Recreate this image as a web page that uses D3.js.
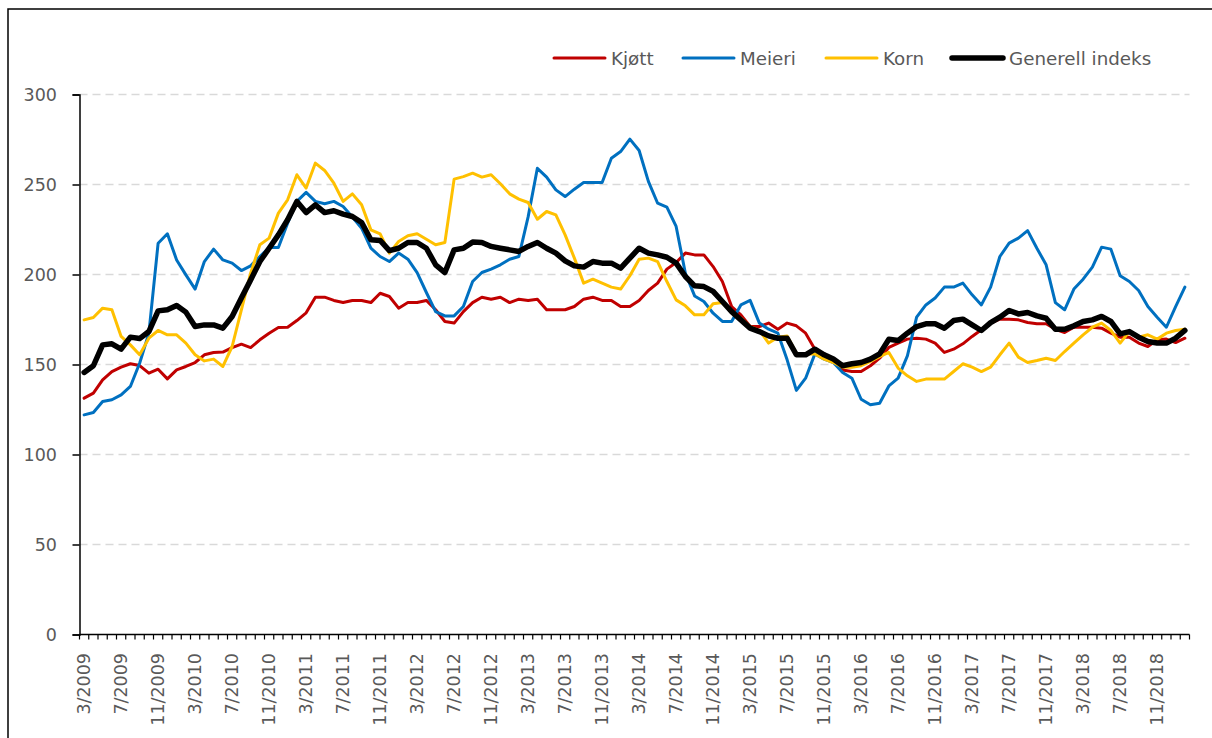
<!DOCTYPE html>
<html>
<head>
<meta charset="utf-8">
<script src="https://cdn.jsdelivr.net/npm/d3@7"></script>
<style>
  html, body { margin: 0; padding: 0; background: #fff; }
  svg { display: block; }
  text { font-family: "DejaVu Sans", sans-serif; fill: #595959; }
</style>
</head>
<body>
<svg id="chart" width="1212" height="738"></svg>
<script>
// ---- data (monthly, 3/2009 – 2/2019) ----
const months = [];
for (let k = 0; k < 120; k++) {
  const m = (2 + k) % 12 + 1;
  const yr = 2009 + Math.floor((2 + k) / 12);
  months.push(m + "/" + yr);
}
const seriesNames = ["Kjøtt", "Meieri", "Korn", "Generell indeks"];
const seriesColors = ["#C00000", "#0070C0", "#FFC000", "#000000"];
const yTicks = [0, 50, 100, 150, 200, 250, 300];

const kjott = [131.3,134.1,141.5,146.1,148.5,150.4,149.4,145.2,147.4,142.0,147.0,148.9,151.1,155.4,156.7,156.9,159.4,161.3,159.4,163.7,
167.4,170.6,170.7,174.4,178.7,187.4,187.4,185.6,184.4,185.6,185.6,184.4,189.6,187.8,181.3,184.4,184.4,185.6,180.4,173.9,
173.0,179.4,184.4,187.4,186.3,187.4,184.4,186.3,185.6,186.3,180.4,180.4,180.4,182.2,186.3,187.4,185.6,185.6,182.2,182.2,
185.6,191.1,195.2,203.0,206.7,211.9,210.9,210.9,204.4,196.1,182.2,177.6,171.1,171.1,173.0,169.6,173.0,171.5,167.4,158.5,
155.9,152.6,147.0,146.1,146.1,149.3,153.5,159.5,161.9,164.1,164.6,164.1,161.9,156.7,158.5,161.5,165.6,169.3,173.0,175.2,
175.2,174.8,173.3,172.6,172.6,169.6,167.8,170.7,170.7,170.7,170.2,167.4,165.2,165.2,161.9,160.0,163.7,164.1,162.2,164.6];

const meieri = [122.0,123.3,129.4,130.4,133.1,137.8,150.7,167.4,217.4,222.6,208.1,199.8,191.9,207.2,214.1,208.1,206.3,202.2,204.8,210.0,
215.0,215.0,228.5,240.6,245.6,240.6,239.3,240.6,237.8,231.9,225.7,214.6,210.0,207.2,211.9,208.5,201.1,190.0,179.4,177.0,
177.0,182.2,196.1,201.1,203.0,205.4,208.5,210.0,232.0,259.0,254.1,247.0,243.3,247.4,251.1,251.1,251.1,264.6,268.3,275.2,
268.9,251.7,239.6,237.4,226.7,200.7,188.1,185.0,178.5,173.9,173.9,183.1,185.6,173.0,169.6,167.4,152.6,135.6,142.4,155.9,
153.0,151.1,145.6,142.4,130.7,127.6,128.5,138.1,142.4,154.8,176.3,183.1,186.9,193.0,193.0,195.2,188.7,183.1,193.0,210.0,
217.4,220.2,224.4,214.6,205.4,184.4,180.4,191.9,197.4,204.1,215.2,214.1,199.3,196.1,191.1,182.2,176.3,170.7,182.2,193.0];

const korn = [174.8,176.1,181.3,180.4,165.6,160.9,155.4,164.6,168.9,166.5,166.5,161.9,155.4,152.0,153.0,148.9,160.0,180.4,200.7,216.5,
220.2,234.1,241.5,255.4,248.0,261.9,257.8,250.7,240.6,244.8,238.7,224.8,222.6,211.9,218.3,221.5,222.6,219.6,216.5,217.8,
253.0,254.4,256.3,254.1,255.4,250.4,244.8,241.9,240.0,230.7,235.0,233.1,222.0,209.1,195.2,197.4,195.2,193.0,191.9,199.3,
208.5,209.1,207.2,196.1,185.9,182.6,177.6,177.6,183.7,184.4,179.4,175.7,171.1,168.9,161.9,165.2,165.9,156.3,155.9,155.9,
153.0,151.1,148.5,148.5,149.3,151.7,154.4,156.7,148.0,143.7,140.6,141.9,141.9,141.9,146.1,150.4,148.5,146.1,148.5,155.4,
161.9,154.1,151.1,152.2,153.5,152.2,157.2,161.9,166.5,170.7,173.0,168.9,161.9,168.3,165.2,166.5,164.1,167.4,168.9,169.6];

const generell = [145.6,149.3,160.9,161.5,158.5,165.2,164.4,168.3,179.8,180.4,182.8,179.1,171.1,172.0,172.0,170.2,176.7,186.9,197.0,207.2,
214.6,222.0,230.4,240.6,234.4,238.7,234.4,235.4,233.5,232.2,228.9,219.3,218.9,213.3,214.6,217.8,217.8,214.6,205.4,201.1,
213.7,214.6,218.0,217.8,215.6,214.6,213.7,212.8,215.6,217.8,214.6,211.9,207.6,204.8,204.1,207.2,206.3,206.3,203.5,209.1,
214.6,211.9,210.9,209.6,206.3,198.9,193.7,193.3,190.6,185.0,179.4,174.8,170.2,168.3,165.9,164.6,164.6,155.4,155.4,158.5,
155.4,153.0,149.3,150.4,151.1,153.0,155.9,164.0,163.3,167.4,171.1,172.6,172.6,170.2,174.4,175.2,172.0,168.9,173.3,176.3,
180.0,178.1,178.9,177.0,175.7,169.6,169.6,171.5,173.9,174.8,176.7,173.9,167.0,168.3,165.2,162.8,161.9,161.9,164.6,168.9];

const seriesValues = [kjott, meieri, korn, generell];
const lineWidths = [3, 3, 3, 5.5];

// ---- drawing ----
const svg = d3.select("#chart");

// frame (cropped chart border: left and top)
svg.append("path")
  .attr("d", "M8,738 L8,9 L1212,9")
  .attr("fill", "none").attr("stroke", "#000").attr("stroke-width", 1.5);

const x = d3.scaleBand().domain(d3.range(months.length)).range([79.5, 1189.5]).paddingInner(0).paddingOuter(0);
const y = d3.scaleLinear().domain([0, 300]).range([634.5, 94.5]);
const xc = i => x(i) + x.bandwidth() / 2;

// gridlines
svg.append("g").selectAll("line")
  .data(yTicks.filter(v => v > 0))
  .join("line")
  .attr("x1", 79.5).attr("x2", 1189.5)
  .attr("y1", d => y(d)).attr("y2", d => y(d))
  .attr("stroke", "#D9D9D9").attr("stroke-width", 1.5)
  .attr("stroke-dasharray", "8,5");

// y axis
const yAxis = svg.append("g")
  .attr("transform", "translate(79.5,0)")
  .call(d3.axisLeft(y).tickValues(yTicks).tickSize(7).tickPadding(15.5).tickFormat(d3.format("d")));
yAxis.select(".domain").attr("stroke", "#000").attr("stroke-width", 1.5);
yAxis.selectAll(".tick line").attr("stroke", "#000").attr("stroke-width", 1.5);
yAxis.selectAll("text").attr("font-size", 17.5).attr("fill", "#595959")
  .attr("font-family", "DejaVu Sans, sans-serif");

// x axis: domain line and month ticks at category boundaries
const xg = svg.append("g").attr("transform", "translate(0,634.5)");
const boundaries = d3.range(months.length).map(i => x(i)).concat([x.range()[1]]);
xg.selectAll("line.mt").data(boundaries).join("line")
  .attr("class", "mt")
  .attr("x1", d => d).attr("x2", d => d)
  .attr("y1", 0).attr("y2", 5)
  .attr("stroke", "#000").attr("stroke-width", 1.2);
xg.append("line").attr("x1", 79.5).attr("x2", 1189.5).attr("y1", 0).attr("y2", 0)
  .attr("stroke", "#000").attr("stroke-width", 1.5);

// x labels every 4 months (via axis generator, rotated)
const labelIdx = d3.range(0, months.length, 4);
const xLab = svg.append("g")
  .attr("transform", "translate(0,634.5)")
  .call(d3.axisBottom(x).tickValues(labelIdx).tickSize(0).tickFormat(i => months[i]));
xLab.select(".domain").remove();
xLab.selectAll("text")
  .attr("transform", "rotate(-90)")
  .attr("text-anchor", "end")
  .attr("x", -18.5).attr("y", 0).attr("dy", "0.36em")
  .attr("font-size", 17.5).attr("fill", "#595959")
  .attr("font-family", "DejaVu Sans, sans-serif");

// lines
const line = d3.line().x((d, i) => xc(i)).y(d => y(d)).curve(d3.curveLinear);
seriesValues.forEach((vals, s) => {
  svg.append("path")
    .datum(vals)
    .attr("fill", "none")
    .attr("stroke", seriesColors[s])
    .attr("stroke-width", lineWidths[s])
    .attr("stroke-linejoin", "round")
    .attr("stroke-linecap", "round")
    .attr("d", line);
});

// legend
const legendX = [554, 683, 826, 952];
const legend = svg.append("g");
seriesNames.forEach((name, s) => {
  const g = legend.append("g").attr("transform", `translate(${legendX[s]},0)`);
  g.append("line").attr("x1", 0).attr("x2", 51).attr("y1", 58).attr("y2", 58)
    .attr("stroke", seriesColors[s]).attr("stroke-width", lineWidths[s])
    .attr("stroke-linecap", "round");
  g.append("text").attr("x", 57).attr("y", 64.5)
    .attr("font-size", 18.3).attr("fill", "#595959").text(name);
});
</script>
</body>
</html>
